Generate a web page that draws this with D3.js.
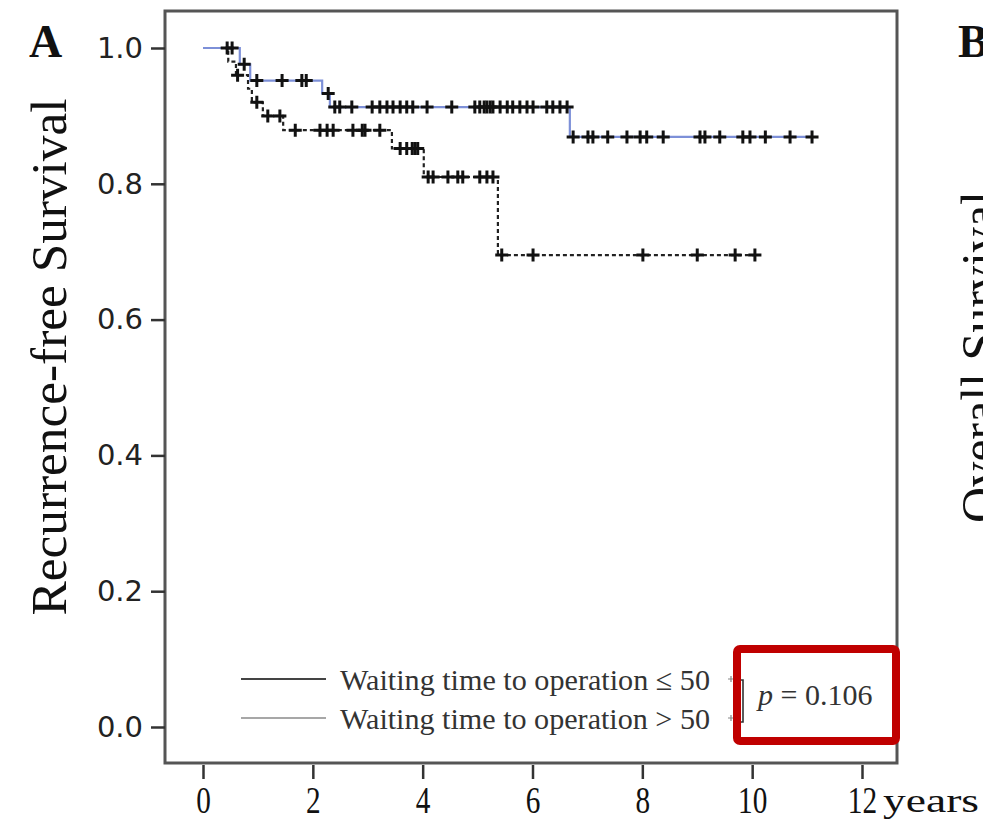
<!DOCTYPE html>
<html>
<head>
<meta charset="utf-8">
<script src="https://cdn.jsdelivr.net/npm/d3@7"></script>
<style>
  body { margin: 0; background: #fff; }
  svg { display: block; }
</style>
</head>
<body>
<svg></svg>
<script>
// ---- data ----
// group 1: waiting time <= 50 (solid blue)
const eventTimes1 = [0.67, 0.86, 2.17, 2.31, 6.68];
const survival1 = [0.976, 0.952, 0.933, 0.913, 0.869];
const endTime1 = 11.09;
const censor1 = [0.44, 0.53, 0.75, 0.98, 1.44, 1.80, 1.88, 2.28, 2.40, 2.49, 2.71, 3.08,
  3.22, 3.35, 3.46, 3.59, 3.71, 3.82, 4.08, 4.53, 4.95, 5.04, 5.12, 5.17, 5.23, 5.28,
  5.41, 5.54, 5.64, 5.77, 5.90, 6.01, 6.26, 6.37, 6.50, 6.63, 6.74, 7.01, 7.10, 7.37,
  7.72, 7.96, 8.08, 8.38, 9.05, 9.14, 9.41, 9.83, 9.96, 10.24, 10.69, 11.09];

// group 2: waiting time > 50 (dotted black)
const eventTimes2 = [0.46, 0.60, 0.82, 0.89, 1.09, 1.46, 3.44, 4.02, 5.37];
const survival2 = [0.98, 0.96, 0.94, 0.92, 0.90, 0.879, 0.852, 0.810, 0.695];
const endTime2 = 10.05;
const censor2 = [0.63, 0.98, 1.18, 1.40, 1.68, 2.13, 2.26, 2.37, 2.73, 2.90, 2.95, 3.22,
  3.59, 3.71, 3.81, 3.86, 3.91, 4.10, 4.19, 4.46, 4.64, 4.73, 5.04, 5.17, 5.28,
  5.44, 6.01, 8.01, 9.00, 9.69, 10.05];

const xTicks = [0, 2, 4, 6, 8, 10, 12];
const yTicks = [0, 0.2, 0.4, 0.6, 0.8, 1.0];
const legendLabels = ['Waiting time to operation \u2264 50', 'Waiting time to operation > 50'];
const pValue = '0.106';

// ---- layout ----
const size = {w: 983, h: 823};
const frame = {l: 165, t: 11, r: 897, b: 763};
const svg = d3.select('svg').attr('width', size.w).attr('height', size.h);
svg.append('rect').attr('width', size.w).attr('height', size.h).attr('fill', '#fff');

const x = d3.scaleLinear().domain([0, 12]).range([203, 862]);
const y = d3.scaleLinear().domain([0, 1]).range([727, 48]);

// step-function points for a KM curve
function kmPoints(times, surv, end) {
  let pts = [[0, 1]];
  times.forEach((t, i) => pts.push([t, surv[i]]));
  pts.push([end, surv[surv.length - 1]]);
  return pts;
}
function survAt(times, surv, t) {
  let s = 1;
  times.forEach((e, i) => { if (e <= t) s = surv[i]; });
  return s;
}

// frame
svg.append('rect')
  .attr('x', frame.l).attr('y', frame.t)
  .attr('width', frame.r - frame.l).attr('height', frame.b - frame.t)
  .attr('fill', 'none').attr('stroke', '#555').attr('stroke-width', 3);

// y axis
const yAxis = svg.append('g')
  .attr('transform', `translate(${frame.l},0)`)
  .call(d3.axisLeft(y).tickValues(yTicks).tickFormat(d3.format('.1f')).tickSize(14).tickPadding(8));
yAxis.select('.domain').remove();
yAxis.selectAll('line').attr('stroke', '#333').attr('stroke-width', 2.5);
yAxis.selectAll('text')
  .attr('font-family', 'DejaVu Sans').attr('font-size', 29).attr('fill', '#222');

// x axis
const xAxis = svg.append('g')
  .attr('transform', `translate(0,${frame.b + 2})`)
  .call(d3.axisBottom(x).tickValues(xTicks).tickSize(14));
xAxis.select('.domain').remove();
xAxis.selectAll('line').attr('stroke', '#333').attr('stroke-width', 2.5);
xAxis.selectAll('text')
  .attr('font-family', 'Liberation Serif').attr('font-size', 38).attr('fill', '#111')
  .attr('y', 48).attr('dy', null)
  .attr('transform', 'scale(0.77,1)');

svg.append('text')
  .attr('x', 883).attr('y', 812)
  .attr('font-family', 'Liberation Serif').attr('font-size', 34).attr('fill', '#111')
  .attr('textLength', 96).attr('lengthAdjust', 'spacingAndGlyphs')
  .text('years');

// axis titles and panel letters
svg.append('text')
  .attr('transform', 'translate(66,357) rotate(-90)')
  .attr('text-anchor', 'middle')
  .attr('font-family', 'Liberation Serif').attr('font-size', 50).attr('fill', '#111')
  .attr('textLength', 517).attr('lengthAdjust', 'spacingAndGlyphs')
  .text('Recurrence-free Survival');
svg.append('text')
  .attr('x', 29).attr('y', 57)
  .attr('font-family', 'Liberation Serif').attr('font-weight', 'bold')
  .attr('font-size', 46).attr('fill', '#111').text('A');
svg.append('text')
  .attr('x', 958).attr('y', 57)
  .attr('font-family', 'Liberation Serif').attr('font-weight', 'bold')
  .attr('font-size', 46).attr('fill', '#111').text('B');
svg.append('text')
  .attr('transform', 'translate(996,357) rotate(-90)')
  .attr('text-anchor', 'middle')
  .attr('font-family', 'Liberation Serif').attr('font-size', 50).attr('fill', '#111')
  .text('Overall Survival');

// curves
const line = d3.line().x(d => x(d[0])).y(d => y(d[1])).curve(d3.curveStepAfter);
const plotG = svg.append('g');

plotG.append('path')
  .attr('d', line(kmPoints(eventTimes2, survival2, endTime2)))
  .attr('fill', 'none').attr('stroke', '#222').attr('stroke-width', 2.2)
  .attr('stroke-dasharray', '4,3');
plotG.append('path')
  .attr('d', line(kmPoints(eventTimes1, survival1, endTime1)))
  .attr('fill', 'none').attr('stroke', '#7d90d8').attr('stroke-width', 2.2);

// censor marks
const plus = 'M-6.5,0H6.5M0,-6.5V6.5';
function drawCensor(times, evTimes, surv) {
  plotG.append('g').selectAll('path')
    .data(times)
    .join('path')
    .attr('d', plus)
    .attr('transform', d => `translate(${x(d)},${y(survAt(evTimes, surv, d))})`)
    .attr('stroke', '#111').attr('stroke-width', 3).attr('fill', 'none');
}
drawCensor(censor2, eventTimes2, survival2);
drawCensor(censor1, eventTimes1, survival1);

// legend
const legendG = svg.append('g');
const legendY = [679, 718];
const legendColors = ['#444', '#8a8a8a'];
const legendWidths = [2, 1.5];
legendLabels.forEach((lab, i) => {
  legendG.append('line')
    .attr('x1', 241).attr('x2', 326).attr('y1', legendY[i]).attr('y2', legendY[i])
    .attr('stroke', legendColors[i]).attr('stroke-width', legendWidths[i]);
  legendG.append('text')
    .attr('x', 340).attr('y', legendY[i] + 11)
    .attr('font-family', 'Liberation Serif').attr('font-size', 30).attr('fill', '#333')
    .attr('textLength', 370).attr('lengthAdjust', 'spacingAndGlyphs')
    .text(lab);
  legendG.append('path')
    .attr('d', 'M-3,0H3M0,-3V3')
    .attr('transform', `translate(731,${legendY[i]})`)
    .attr('stroke', '#888').attr('stroke-width', 1.2);
});
legendG.append('path')
  .attr('d', 'M738,680H743V722H738')
  .attr('fill', 'none').attr('stroke', '#333').attr('stroke-width', 1.6);
const pText = legendG.append('text')
  .attr('x', 758).attr('y', 705)
  .attr('font-family', 'Liberation Serif').attr('font-size', 30).attr('fill', '#333');
pText.append('tspan').attr('font-style', 'italic').text('p');
pText.append('tspan').text(' = ' + pValue);

// red highlight box
svg.append('rect')
  .attr('x', 737).attr('y', 649).attr('width', 159).attr('height', 92)
  .attr('rx', 3)
  .attr('fill', 'none').attr('stroke', '#c00000').attr('stroke-width', 8);
</script>
</body>
</html>
